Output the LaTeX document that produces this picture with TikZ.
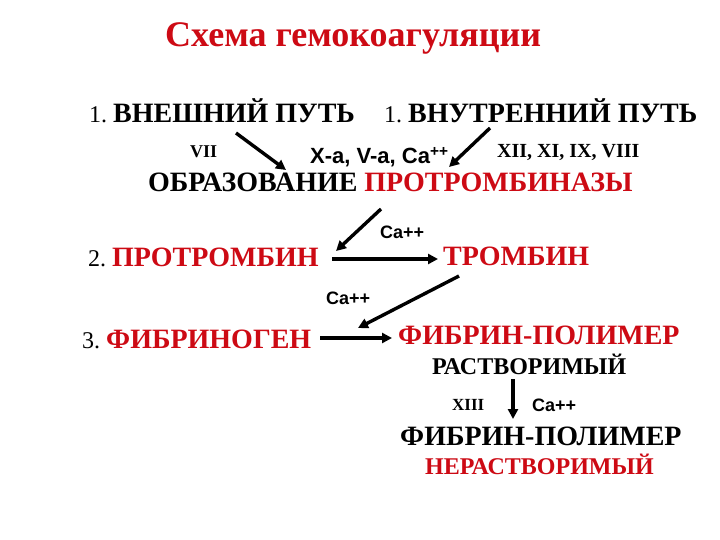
\documentclass[tikz,border=0pt]{standalone}
\usepackage{fontspec}
\setmainfont{Liberation Serif}
\newfontfamily\arialf{Liberation Sans}
\usetikzlibrary{arrows.meta}
\definecolor{rd}{RGB}{205,10,20}
\tikzset{
  txt/.style={inner sep=0pt, anchor=base west, font=\bfseries},
  arr/.style={line width=3.4pt, -{Triangle[length=10pt,width=10pt]}},
}
\newcommand{\fs}[1]{\fontsize{#1}{#1}\selectfont}
\newcommand{\num}[1]{{\fs{24}\mdseries #1}\hspace{6pt}}
\begin{document}
\begin{tikzpicture}[x=1pt,y=-1pt]
\useasboundingbox (0,0) rectangle (720,540);
\fill[white] (0,0) rectangle (720,540);
\node[txt, text=rd, font=\bfseries\fs{36}] (title) at (165,47) {Схема гемокоагуляции};
\node[txt, font=\bfseries\fs{28}] (ext) at (89,123) {\num{1.}ВНЕШНИЙ ПУТЬ};
\node[txt, font=\bfseries\fs{28}] (int) at (384,123) {\num{1.}ВНУТРЕННИЙ ПУТЬ};
\node[txt, font=\bfseries\fs{18}] (vii) at (190,158) {VII};
\node[txt, font=\arialf\bfseries\fs{22}] (xa) at (310,164) {X-a, V-a, Ca\textsuperscript{++}};
\node[txt, font=\bfseries\fs{20}] (xii) at (497,158) {XII, XI, IX, VIII};
\node[txt, font=\bfseries\fs{28}] (obr) at (148,192) {ОБРАЗОВАНИЕ \textcolor{rd}{ПРОТРОМБИНАЗЫ}};
\node[txt, font=\arialf\bfseries\fs{18}] (ca1) at (380,238) {Ca++};
\node[txt, font=\bfseries\fs{28}] (ptr) at (88,266) {\num{2.}\textcolor{rd}{ПРОТРОМБИН}};
\node[txt, text=rd, font=\bfseries\fs{28}] (tr) at (443,265) {ТРОМБИН};
\node[txt, font=\arialf\bfseries\fs{18}] (ca2) at (326,304) {Ca++};
\node[txt, font=\bfseries\fs{28}] (fg) at (82,348) {\num{3.}\textcolor{rd}{ФИБРИНОГЕН}};
\node[txt, text=rd, font=\bfseries\fs{28}] (fp1) at (398,344) {ФИБРИН-ПОЛИМЕР};
\node[txt, font=\bfseries\fs{24}] (rast) at (432,374) {РАСТВОРИМЫЙ};
\node[txt, font=\bfseries\fs{17}] (xiii) at (452,410) {XIII};
\node[txt, font=\arialf\bfseries\fs{18}] (ca3) at (532,411) {Ca++};
\node[txt, font=\bfseries\fs{28}] (fp2) at (400,445) {ФИБРИН-ПОЛИМЕР};
\node[txt, text=rd, font=\bfseries\fs{24}] (nerast) at (425,474) {НЕРАСТВОРИМЫЙ};
% arrow end points
\coordinate (a1s) at (236,133); \coordinate (a1e) at (286,170);
\coordinate (a2s) at (490,128); \coordinate (a2e) at (449,167);
\coordinate (a3s) at (381,209); \coordinate (a3e) at (336,251);
\coordinate (a4s) at (332,259); \coordinate (a4e) at (438,259);
\coordinate (a5s) at (459,276); \coordinate (a5e) at (358,328);
\coordinate (a6s) at (320,338); \coordinate (a6e) at (392,338);
\coordinate (a7s) at (513,379); \coordinate (a7e) at (513,419);
\draw[arr] (a1s) -- (a1e);
\draw[arr] (a2s) -- (a2e);
\draw[arr] (a3s) -- (a3e);
\draw[arr] (a4s) -- (a4e);
\draw[arr] (a5s) -- (a5e);
\draw[arr] (a6s) -- (a6e);
\draw[arr] (a7s) -- (a7e);
\end{tikzpicture}
\end{document}
